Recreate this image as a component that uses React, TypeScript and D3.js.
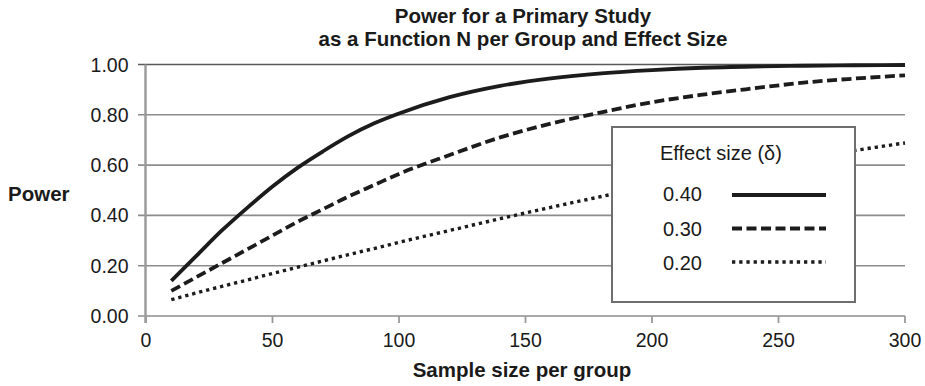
import React from "react";
import * as d3 from "d3";

const sampleSizes = [10, 20, 30, 40, 50, 60, 70, 80, 90, 100, 120, 140, 160, 180, 200, 220, 240, 260, 280, 300];
const power040 = [0.14, 0.24, 0.34, 0.43, 0.515, 0.59, 0.655, 0.715, 0.765, 0.805, 0.87, 0.915, 0.945, 0.965, 0.978, 0.987, 0.992, 0.995, 0.997, 0.998];
const power030 = [0.1, 0.155, 0.21, 0.265, 0.32, 0.375, 0.425, 0.475, 0.52, 0.565, 0.64, 0.71, 0.765, 0.81, 0.85, 0.88, 0.905, 0.928, 0.944, 0.957];
const power020 = [0.065, 0.092, 0.118, 0.143, 0.169, 0.194, 0.219, 0.244, 0.268, 0.293, 0.34, 0.387, 0.432, 0.475, 0.516, 0.555, 0.591, 0.626, 0.658, 0.688];
const seriesLabels = ["0.40", "0.30", "0.20"];
const xTicks = [0, 50, 100, 150, 200, 250, 300];
const yTicks = [0, 0.2, 0.4, 0.6, 0.8, 1.0];
const titleLines = ["Power for a Primary Study", "as a Function N per Group and Effect Size"];
const xTitle = "Sample size per group";
const yTitle = "Power";
const legendTitle = "Effect size (\u03b4)";

const FONT = "'Liberation Sans', Arial, Helvetica, sans-serif";

export default function App() {
  const W = 925, H = 386;
  const x = d3.scaleLinear().domain([0, 300]).range([146, 905]);
  const y = d3.scaleLinear().domain([0, 1]).range([316, 64.5]);
  const line = d3
    .line<[number, number]>()
    .x((d) => x(d[0]))
    .y((d) => y(d[1]))
    .curve(d3.curveMonotoneX);

  const series = [power040, power030, power020];
  const dashes = ["none", "10 4.5", "3.3 3.9"];
  const widths = [3.8, 3.8, 3.4];
  const ink = "#1c1c1c";

  const lg = { x0: 612, y0: 127, x1: 855, y1: 302 };
  const legendRowY = [195, 228.5, 262];
  const legendTextY = [200.5, 236, 269.5];

  return (
    <svg width={W} height={H} style={{ position: "absolute", left: 0, top: 0, background: "#fff" }}>
      <rect x={0} y={0} width={W} height={H} fill="#fff" />
      {/* title */}
      {titleLines.map((t, i) => (
        <text key={t} x={523} y={i === 0 ? 22.5 : 46} textAnchor="middle" fontFamily={FONT} fontWeight="bold" fontSize={20.5} fill="#1a1a1a">
          {t}
        </text>
      ))}
      {/* gridlines */}
      {yTicks.map((t) => (
        <line key={t} x1={138} x2={905} y1={y(t)} y2={y(t)} stroke={t === 1 ? "#5a5a5a" : "#8c8c8c"} strokeWidth={1.6} />
      ))}
      {/* y axis */}
      <line x1={145.5} x2={145.5} y1={y(1)} y2={323} stroke="#999" strokeWidth={2.4} />
      {/* x ticks */}
      {xTicks.map((t) => (
        <line key={t} x1={x(t)} x2={x(t)} y1={y(0)} y2={323} stroke="#999" strokeWidth={1.8} />
      ))}
      {/* y tick labels */}
      {yTicks.map((t) => (
        <text key={t} x={128.5} y={y(t) + 7} textAnchor="end" fontFamily={FONT} fontSize={19.5} fill="#1a1a1a">
          {t.toFixed(2)}
        </text>
      ))}
      {/* x tick labels */}
      {xTicks.map((t) => (
        <text key={t} x={x(t)} y={347} textAnchor="middle" fontFamily={FONT} fontSize={19.5} fill="#1a1a1a">
          {t}
        </text>
      ))}
      {/* axis titles */}
      <text x={8} y={201} fontFamily={FONT} fontWeight="bold" fontSize={20.5} fill="#1a1a1a">
        {yTitle}
      </text>
      <text x={522} y={377} textAnchor="middle" fontFamily={FONT} fontWeight="bold" fontSize={20.5} fill="#1a1a1a">
        {xTitle}
      </text>
      {/* series */}
      {series.map((vals, i) => (
        <path
          key={i}
          d={line(sampleSizes.map((n, j) => [n, vals[j]] as [number, number])) || ""}
          fill="none"
          stroke={ink}
          strokeWidth={widths[i]}
          strokeDasharray={dashes[i]}
        />
      ))}
      {/* legend */}
      <rect x={lg.x0} y={lg.y0} width={lg.x1 - lg.x0} height={lg.y1 - lg.y0} fill="#fff" stroke="#6e6e6e" strokeWidth={2} />
      <text x={660} y={160} fontFamily={FONT} fontSize={20} fill="#1a1a1a">
        {legendTitle}
      </text>
      {seriesLabels.map((lab, i) => (
        <g key={lab}>
          <text x={663} y={legendTextY[i]} fontFamily={FONT} fontSize={20} fill="#1a1a1a">
            {lab}
          </text>
          <line x1={732} x2={826} y1={legendRowY[i]} y2={legendRowY[i]} stroke={ink} strokeWidth={widths[i]} strokeDasharray={dashes[i]} />
        </g>
      ))}
    </svg>
  );
}
